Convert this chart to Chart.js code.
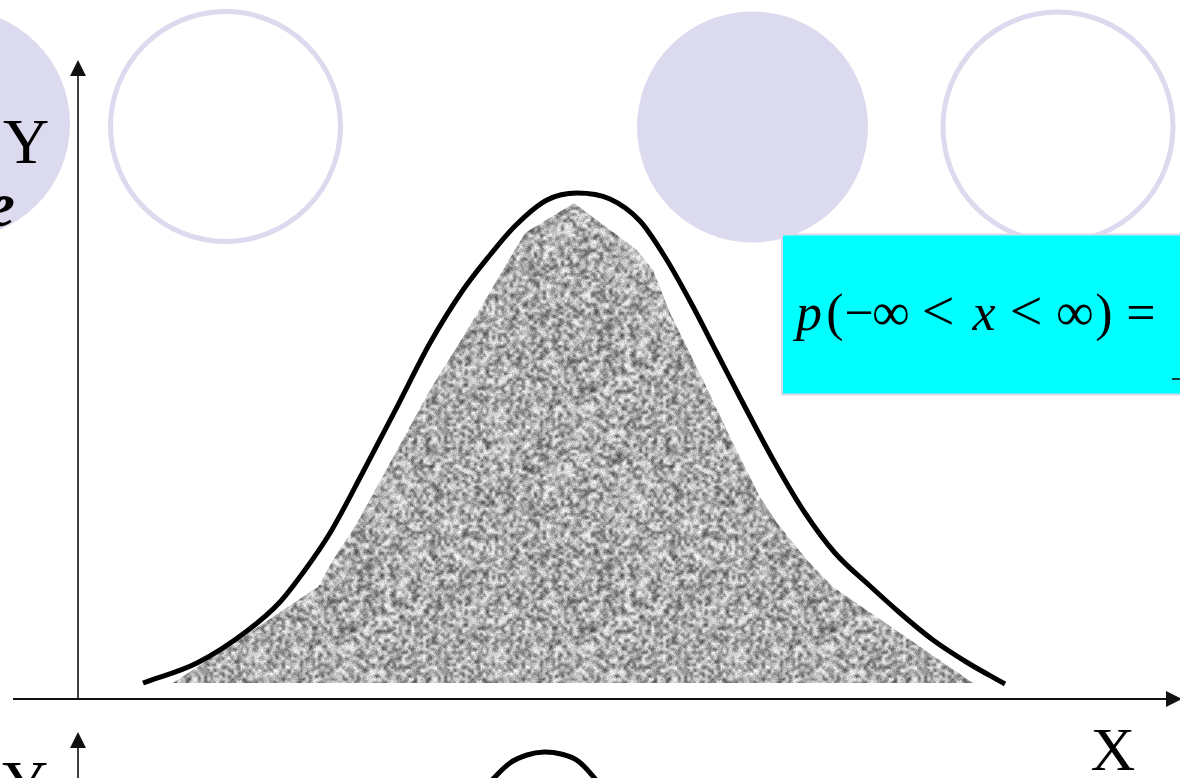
<!DOCTYPE html>
<html>
<head>
<meta charset="utf-8">
<title>Normal distribution</title>
<script src="https://cdn.jsdelivr.net/npm/chart.js@4/dist/chart.umd.min.js"></script>
<style>
  html, body { margin: 0; padding: 0; background: #fff; }
  #stage { position: relative; width: 1180px; height: 778px; overflow: hidden; background: #fff; }
  #stage svg, #stage canvas { position: absolute; left: 0; top: 0; }
  .serif { font-family: "Liberation Serif", "DejaVu Serif", serif; fill: #000; }
</style>
</head>
<body>
<div id="stage">
  <svg id="back" width="1180" height="778">
    <circle cx="-45" cy="124" r="115" fill="#dbdaee"/>
    <circle cx="225.5" cy="126.5" r="115" fill="none" stroke="#dbdaee" stroke-width="5"/>
    <circle cx="752.5" cy="127" r="115.5" fill="#dbdaee"/>
    <circle cx="1058" cy="127" r="115" fill="none" stroke="#dbdaee" stroke-width="5"/>
  </svg>
  <canvas id="chart" width="1180" height="778"></canvas>
  <svg id="front" width="1180" height="778">
    <rect x="782" y="234.5" width="400" height="160" fill="#00ffff" stroke="#d9d9ee" stroke-width="2"/>
    <g class="serif" font-size="52">
      <text x="809" y="330" text-anchor="middle" font-style="italic">p</text>
      <text x="835" y="330" text-anchor="middle">(</text>
      <text x="859" y="330" text-anchor="middle">−</text>
      <text x="891" y="330" text-anchor="middle" font-size="53">∞</text>
      <text x="938" y="330" text-anchor="middle" font-size="58">&lt;</text>
      <text x="984" y="330" text-anchor="middle" font-style="italic">x</text>
      <text x="1026" y="330" text-anchor="middle" font-size="58">&lt;</text>
      <text x="1075" y="330" text-anchor="middle" font-size="53">∞</text>
      <text x="1104" y="330" text-anchor="middle">)</text>
      <text x="1141" y="330" text-anchor="middle">=</text>
    </g>
    <line x1="1172" y1="379" x2="1182" y2="379" stroke="#000" stroke-width="1.5"/>
    <text class="serif" x="26" y="163" font-size="64" text-anchor="middle">Y</text>
    <text class="serif" x="15" y="226" font-size="64" font-style="italic" font-weight="bold" text-anchor="end">e</text>
    <text class="serif" x="1113" y="770" font-size="62" text-anchor="middle">X</text>
    <text class="serif" x="25" y="805" font-size="64" text-anchor="middle">Y</text>
  </svg>
</div>
<script>
// Bell curve drawn above the shaded region (x, density)
const curveX = [0.65, 1.19, 1.69, 2.02, 2.27, 2.52, 2.85, 3.19, 3.52, 3.85, 4.12, 4.37, 4.69, 4.99,
                5.32, 5.62, 5.87, 6.12, 6.39, 6.67, 6.97, 7.27, 7.57, 7.92, 8.22, 8.55, 8.90, 9.27];
const curveY = [0.16, 0.36, 0.68, 0.97, 1.29, 1.66, 2.27, 2.92, 3.56, 4.09, 4.44, 4.73, 4.99, 5.06,
                5.00, 4.78, 4.42, 3.98, 3.46, 2.92, 2.36, 1.86, 1.46, 1.13, 0.86, 0.59, 0.36, 0.15];

// Shaded probability region under the curve (polygon outline)
const areaX = [0.95, 2.40, 2.55, 2.79, 3.12, 3.52, 3.85, 4.09, 4.47, 4.96,
               5.59, 5.75, 5.92, 6.25, 6.52, 6.82, 6.99, 7.29, 7.55, 8.95];
const areaY = [0.16, 1.12, 1.39, 1.76, 2.36, 3.09, 3.62, 4.02, 4.66, 4.96,
               4.49, 4.29, 3.86, 3.19, 2.62, 2.02, 1.76, 1.39, 1.12, 0.16];
const areaBase = 0.16;

// Top of the next figure's curve, peeking in below the X axis
const lowerX = [4.12, 4.32, 4.49, 4.66, 4.83, 5.00, 5.20];
const lowerY = [-0.83, -0.64, -0.56, -0.53, -0.55, -0.62, -0.83];

const toPoints = (xs, ys) => xs.map((x, i) => ({ x, y: ys[i] }));

// Soft granite-like gray texture for the shaded region (seeded, same on every load)
function grainPattern(ctx) {
  const size = 240;
  let seed = 20240611;
  const rnd = () => (seed = (Math.imul(seed, 1664525) + 1013904223) >>> 0) / 4294967296;
  const layer = (n, lo, span) => {
    const c = document.createElement('canvas');
    c.width = c.height = n;
    const g = c.getContext('2d');
    const img = g.createImageData(n, n);
    for (let i = 0; i < n * n; i++) {
      const v = Math.round(lo + Math.pow(rnd(), 0.75) * span);
      img.data[i * 4] = v; img.data[i * 4 + 1] = v; img.data[i * 4 + 2] = v; img.data[i * 4 + 3] = 255;
    }
    g.putImageData(img, 0, 0);
    return c;
  };
  const tile3 = (src) => {
    const n = src.width;
    const c = document.createElement('canvas');
    c.width = c.height = n * 3;
    const g = c.getContext('2d');
    for (let dx = 0; dx < 3; dx++) for (let dy = 0; dy < 3; dy++) g.drawImage(src, dx * n, dy * n);
    return c;
  };
  const coarse = tile3(layer(size / 3, 56, 185));  // ~3px blobs, wrapped before scaling
  const fine = layer(size, 85, 165);               // 1px speckle
  const raw = document.createElement('canvas');
  raw.width = raw.height = size;
  const rg = raw.getContext('2d');
  rg.imageSmoothingEnabled = true;
  rg.imageSmoothingQuality = 'high';
  rg.drawImage(coarse, -size, -size, size * 3, size * 3);
  rg.globalAlpha = 0.25;
  rg.drawImage(fine, 0, 0);
  rg.globalAlpha = 1;
  const big = tile3(raw);
  const tile = document.createElement('canvas');
  tile.width = tile.height = size;
  const tg = tile.getContext('2d');
  tg.filter = 'blur(0.6px) contrast(1.18)';
  tg.drawImage(big, -size, -size);
  return ctx.createPattern(tile, 'repeat');
}

// Axes with arrow heads, placed through the chart's own scales
const arrowAxes = {
  id: 'arrowAxes',
  beforeDatasetsDraw(chart) {
    const { ctx, scales: { x, y } } = chart;
    const x0 = x.getPixelForValue(0);
    const y0 = y.getPixelForValue(0);
    ctx.save();
    ctx.strokeStyle = '#111';
    ctx.fillStyle = '#111';
    // horizontal axis
    const xl = x.getPixelForValue(-0.65), xr = x.getPixelForValue(11.04);
    ctx.lineWidth = 2;
    ctx.beginPath(); ctx.moveTo(xl, y0); ctx.lineTo(xr - 14, y0); ctx.stroke();
    ctx.beginPath(); ctx.moveTo(xr, y0); ctx.lineTo(xr - 16, y0 - 8); ctx.lineTo(xr - 16, y0 + 8); ctx.closePath(); ctx.fill();
    // vertical axis
    const yt = y.getPixelForValue(6.39);
    ctx.lineWidth = 1.6;
    ctx.beginPath(); ctx.moveTo(x0, y0); ctx.lineTo(x0, yt + 12); ctx.stroke();
    ctx.beginPath(); ctx.moveTo(x0, yt); ctx.lineTo(x0 - 8, yt + 16); ctx.lineTo(x0 + 8, yt + 16); ctx.closePath(); ctx.fill();
    // vertical axis of the next figure
    const yt2 = y.getPixelForValue(-0.33);
    const yb2 = y.getPixelForValue(-0.85);
    ctx.beginPath(); ctx.moveTo(x0, yb2); ctx.lineTo(x0, yt2 + 12); ctx.stroke();
    ctx.beginPath(); ctx.moveTo(x0, yt2); ctx.lineTo(x0 - 8, yt2 + 16); ctx.lineTo(x0 + 8, yt2 + 16); ctx.closePath(); ctx.fill();
    ctx.restore();
  }
};

const canvas = document.getElementById('chart');
const ctx = canvas.getContext('2d');

new Chart(ctx, {
  type: 'line',
  data: {
    datasets: [
      {
        label: 'Density curve',
        data: toPoints(curveX, curveY),
        borderColor: '#000',
        borderWidth: 5,
        borderCapStyle: 'butt',
        pointRadius: 0,
        cubicInterpolationMode: 'monotone',
        fill: false,
        order: 0
      },
      {
        label: 'Probability region',
        data: toPoints(areaX, areaY),
        borderWidth: 0,
        borderColor: 'rgba(0,0,0,0)',
        backgroundColor: grainPattern(ctx),
        pointRadius: 0,
        tension: 0,
        fill: { value: areaBase },
        order: 1
      },
      {
        label: 'Next curve',
        data: toPoints(lowerX, lowerY),
        borderColor: '#000',
        borderWidth: 5,
        pointRadius: 0,
        tension: 0.4,
        fill: false,
        order: 0
      }
    ]
  },
  options: {
    responsive: false,
    devicePixelRatio: 1,
    animation: false,
    events: [],
    layout: { padding: 0 },
    plugins: { legend: { display: false }, tooltip: { enabled: false } },
    scales: {
      x: { type: 'linear', min: -0.78, max: 11.02, display: false },
      y: { type: 'linear', min: -0.79, max: 6.99, display: false }
    }
  },
  plugins: [arrowAxes]
});
</script>
</body>
</html>
